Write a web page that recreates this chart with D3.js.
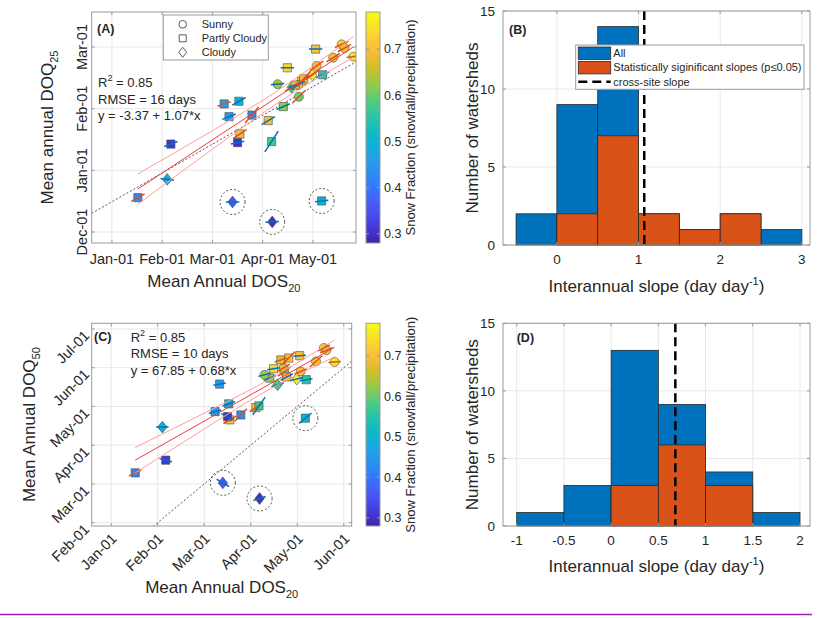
<!DOCTYPE html>
<html>
<head>
<meta charset="utf-8">
<script src="https://cdn.jsdelivr.net/npm/d3@7"></script>
<style>
  body { margin: 0; background: #fff; }
  svg { font-family: "Liberation Sans", Arial, sans-serif; }
</style>
</head>
<body>
<svg id="fig" width="819" height="618"></svg>
<script>
// ---- data ----
// watershed shape class: o = sunny, s = partly cloudy, d = cloudy
const shapeNames = ["Sunny", "Partly Cloudy", "Cloudy"];
const shapes   = ["s","d","s","s","s","s","s","s","s","s","s","s","o","s","o","d","s","o","o","d","s","s","o","o","o","o","d","d","s","s","s"];
const snowFrac = [0.42,0.48,0.31,0.46,0.49,0.45,0.43,0.70,0.30,0.70,0.57,0.62,0.63,0.73,0.60,0.58,0.70,0.68,0.70,0.76,0.55,0.70,0.70,0.72,0.70,0.75,0.36,0.30,0.50,0.68,0.70];
// mean annual DOS20 (days after Jan-01)
const dos20    = [15.5,33.0,35.2,67.0,75.8,69.9,83.6,76.4,75.0,93.3,95.3,102.3,98.9,104.7,111.6,107.3,113.2,111.2,122.2,119.6,125.8,121.6,132.1,137.1,138.8,144.1,72.0,95.7,125.2,109.4,114.5];
// panel A: mean annual DOQ25 (days, axis units)
const doq25    = [-13.3,-4.4,12.8,32.3,33.6,26.1,26.9,17.7,13.5,24.2,14.0,31.0,41.9,49.9,35.8,40.4,43.5,41.5,50.8,46.4,46.5,59.0,54.8,61.3,59.5,55.3,-15.4,-25.1,-14.9,41.5,44.5];
// panel C: mean annual DOQ50 (days, axis units)
const doq50    = [68.6,104,78.4,116,122,137.3,113.4,109.6,112.1,119.1,120.4,142,144.5,149.2,147.1,136.8,142.8,150,147.1,141.2,140.7,159.3,154.9,165.3,163.5,154.4,60.8,48.7,110.9,156,157.5];
// per-watershed interannual slopes and significance
const slopeA   = [0.45,-0.1,0.3,0.28,0.46,0.33,0.98,0.54,0.16,0.49,1.26,0.35,0.08,0,0.8,0.5,0.6,0.5,0.58,0.6,0.35,0,0.51,0.38,0.45,0.1,0,0.05,0.1,0.3,0.9];
const sigA     = [1,0,0,1,0,0,1,1,0,0,0,0,0,0,1,1,1,0,1,1,0,0,1,1,1,1,0,0,0,0,1];
const slopeC   = [0.6,0,-0.3,0.3,0.4,0.2,1.2,0.7,-0.6,0.8,1.7,0.5,0.3,0.2,0.9,0.4,0.6,0.7,0.5,0.3,0.2,0.1,1.1,0.6,0.5,0.1,-0.7,0.4,1.0,0.4,1.2];
const sigC     = [1,0,0,0,0,0,1,1,0,1,0,0,0,0,1,0,0,1,1,0,0,0,1,1,1,1,0,0,0,1,1];
const outlier  = [0,0,0,0,0,0,0,0,0,0,0,0,0,0,0,0,0,0,0,0,0,0,0,0,0,0,1,1,1,0,0];

// cross-site fits (axis units) and confidence bounds
const fitA  = { b0: -17.4, b1: 0.537 };
const refA  = { b0: -15.3, b1: 0.467 };
const bandA = [ { x: 15.5, lo: -16.5, hi: -1.7 }, { x: 60, lo: 10.3, hi: 19.3 }, { x: 97, lo: 31.7, hi: 37.7 }, { x: 144.1, lo: 55, hi: 65 } ];
const fitC  = { b0: 67.85, b1: 0.68 };
const refC  = { b0: 0, b1: 1 };
const bandC = [ { x: 15.5, lo: 68.5, hi: 88.2 }, { x: 60, lo: 102.5, hi: 114.8 }, { x: 95, lo: 128.5, hi: 136.4 }, { x: 144.1, lo: 158.5, hi: 171.5 } ];
const statsA = ["0.85", "RMSE = 16 days", "y = -3.37 + 1.07*x"];
const statsC = ["0.85", "RMSE = 10 days", "y = 67.85 + 0.68*x"];

// axis ticks (evenly spaced month marks, as in the figure)
const xTickDaysA = [0, 30, 60, 90, 120];
const xTickLabA  = ["Jan-01", "Feb-01", "Mar-01", "Apr-01", "May-01"];
const yTickDaysA = [-30, 0, 30, 60];
const yTickLabA  = ["Dec-01", "Jan-01", "Feb-01", "Mar-01"];
const xTickDaysC = [0, 30, 60, 90, 120, 150];
const xTickLabC  = ["Jan-01", "Feb-01", "Mar-01", "Apr-01", "May-01", "Jun-01"];
const yTickDaysC = [30, 60, 90, 120, 150, 180];
const yTickLabC  = ["Feb-01", "Mar-01", "Apr-01", "May-01", "Jun-01", "Jul-01"];
const cLim = [0.28, 0.78];
const cTicks = [0.3, 0.4, 0.5, 0.6, 0.7];

// histograms
const edgesB     = [-0.5, 0, 0.5, 1, 1.5, 2, 2.5, 3];
const countsAllB = [2, 9, 14, 2, 1, 2, 1];
const countsSigB = [0, 2, 7, 2, 1, 2, 0];
const crossB     = 1.07;
const xTicksB    = [0, 1, 2, 3];
const edgesD     = [-1, -0.5, 0, 0.5, 1, 1.5, 2];
const countsAllD = [1, 3, 13, 9, 4, 1];
const countsSigD = [0, 0, 3, 6, 3, 0];
const crossD     = 0.68;
const xTicksD    = [-1, -0.5, 0, 0.5, 1, 1.5, 2];
const yTicksHist = [0, 5, 10, 15];
const legendB    = ["All", "Statistically siginificant slopes (p\u22640.05)", "cross-site slope"];

// ---- style ----
const txt = "#262626", frame = "#9a9a9a", gridCol = "#e8e8e8";
const blue = "#0072BD", orange = "#D95319";
// MATLAB parula, sampled every 4th of 64 entries
const parulaStops = ["#3e26a8","#4537d5","#484df0","#4563fd","#327cfc","#2b91ef","#20a5e3","#08b5d0","#19bfb6",
                     "#37c897","#64cd6f","#9dc943","#d1bf27","#f8ba3d","#fccf30","#f5e924","#f9fb15"];
const parula = d3.scaleLinear()
  .domain([0,4,8,12,16,20,24,28,32,36,40,44,48,52,56,60,63].map(i => i / 63))
  .range(parulaStops).clamp(true);
const sfScale = d3.scaleLinear().domain(cLim).range([0, 1]);

const svg = d3.select("#fig");
const defs = svg.append("defs");

function markerPath(shape, k) {
  if (shape === "o") { const r = 4.5 * k; return `M${r},0A${r},${r},0,1,1,${-r},0A${r},${r},0,1,1,${r},0Z`; }
  if (shape === "s") { const s = 4.1 * k; return `M${-s},${-s}H${s}V${s}H${-s}Z`; }
  const w = 4.7 * k, h = 5.9 * k; return `M0,${-h}L${w},0L0,${h}L${-w},0Z`;
}

function frameAndTicks(g, c, x, y, xt, yt) {
  g.append("rect").attr("x", c.left).attr("y", c.top)
    .attr("width", c.right - c.left).attr("height", c.bottom - c.top)
    .attr("fill", "none").attr("stroke", frame).attr("stroke-width", 1);
  const t = 3;
  xt.forEach(v => {
    g.append("line").attr("x1", x(v)).attr("x2", x(v)).attr("y1", c.bottom).attr("y2", c.bottom - t).attr("stroke", frame);
    g.append("line").attr("x1", x(v)).attr("x2", x(v)).attr("y1", c.top).attr("y2", c.top + t).attr("stroke", frame);
  });
  yt.forEach(v => {
    g.append("line").attr("y1", y(v)).attr("y2", y(v)).attr("x1", c.left).attr("x2", c.left + t).attr("stroke", frame);
    g.append("line").attr("y1", y(v)).attr("y2", y(v)).attr("x1", c.right).attr("x2", c.right - t).attr("stroke", frame);
  });
}

function grid(g, c, x, y, xt, yt) {
  g.selectAll(".gx").data(xt).join("line").attr("class", "gx")
    .attr("x1", d => x(d)).attr("x2", d => x(d)).attr("y1", c.top).attr("y2", c.bottom)
    .attr("stroke", gridCol);
  g.selectAll(".gy").data(yt).join("line").attr("class", "gy")
    .attr("y1", d => y(d)).attr("y2", d => y(d)).attr("x1", c.left).attr("x2", c.right)
    .attr("stroke", gridCol);
}

function subLabel(g, main, sub, attrs, subDy) {
  const t = g.append("text").attr("fill", txt).attr("font-size", 17).attr("text-anchor", "middle");
  Object.entries(attrs).forEach(([k, v]) => t.attr(k, v));
  t.append("tspan").text(main);
  t.append("tspan").attr("font-size", 11).attr("dy", subDy).text(sub);
  return t;
}

function drawScatter(c) {
  const x = d3.scaleLinear().domain(c.xDom).range([c.left, c.right]);
  const y = d3.scaleLinear().domain(c.yDom).range([c.bottom, c.top]);
  const g = svg.append("g");
  defs.append("clipPath").attr("id", "clip" + c.id).append("rect")
    .attr("x", c.left).attr("y", c.top).attr("width", c.right - c.left).attr("height", c.bottom - c.top);
  grid(g, c, x, y, c.xTicks, c.yTicks);

  const plot = g.append("g").attr("clip-path", `url(#clip${c.id})`);
  plot.append("line")
    .attr("x1", x(c.xDom[0])).attr("y1", y(c.ref.b0 + c.ref.b1 * c.xDom[0]))
    .attr("x2", x(c.xDom[1])).attr("y2", y(c.ref.b0 + c.ref.b1 * c.xDom[1]))
    .attr("stroke", "#444").attr("stroke-width", 0.9).attr("stroke-dasharray", "2,2");

  const pts = dos20.map((d, i) => ({ x: d, y: c.ys[i], shape: shapes[i], sf: snowFrac[i],
                                     s: c.slopes[i], sig: c.sig[i], out: outlier[i] }));
  plot.selectAll(".mk").data(pts).join("path").attr("class", "mk")
    .attr("d", d => markerPath(d.shape, 1))
    .attr("transform", d => `translate(${x(d.x)},${y(d.y)})`)
    .attr("fill", d => parula(sfScale(d.sf)))
    .attr("stroke", "#4a4a4a").attr("stroke-width", 0.6);

  const half = 4;
  plot.selectAll(".ind").data(pts).join("line").attr("class", "ind")
    .attr("x1", d => x(d.x - half)).attr("y1", d => y(d.y - d.s * half))
    .attr("x2", d => x(d.x + half)).attr("y2", d => y(d.y + d.s * half))
    .attr("stroke", d => d.sig ? orange : blue).attr("stroke-width", 1.5);

  const lo = d3.line().x(d => x(d.x)).y(d => y(d.lo)).curve(d3.curveMonotoneX);
  const hi = d3.line().x(d => x(d.x)).y(d => y(d.hi)).curve(d3.curveMonotoneX);
  plot.append("path").attr("d", lo(c.band)).attr("fill", "none").attr("stroke", "#ff9c9c").attr("stroke-width", 1);
  plot.append("path").attr("d", hi(c.band)).attr("fill", "none").attr("stroke", "#ff9c9c").attr("stroke-width", 1);
  const [fx0, fx1] = d3.extent(dos20);
  plot.append("line")
    .attr("x1", x(fx0)).attr("y1", y(c.fit.b0 + c.fit.b1 * fx0))
    .attr("x2", x(fx1)).attr("y2", y(c.fit.b0 + c.fit.b1 * fx1))
    .attr("stroke", "#f03a3a").attr("stroke-width", 1);

  plot.selectAll(".ring").data(pts.filter(d => d.out)).join("circle").attr("class", "ring")
    .attr("cx", d => x(d.x)).attr("cy", d => y(d.y)).attr("r", 12.5)
    .attr("fill", "none").attr("stroke", "#444").attr("stroke-width", 0.9).attr("stroke-dasharray", "2,2");

  frameAndTicks(g, c, x, y, c.xTicks, c.yTicks);

  // tick labels
  c.xTicks.forEach((v, i) => {
    const t = g.append("text").attr("fill", txt).attr("font-size", 14.5).text(c.xLabels[i]);
    if (c.rotate) t.attr("text-anchor", "end").attr("dy", "0.35em")
      .attr("transform", `translate(${x(v) + 3},${c.bottom + 10}) rotate(-45)`);
    else t.attr("text-anchor", "middle").attr("x", x(v)).attr("y", c.bottom + 21);
  });
  c.yTicks.forEach((v, i) => {
    const t = g.append("text").attr("fill", txt).attr("font-size", 14.5).text(c.yLabels[i]);
    if (c.rotate) t.attr("text-anchor", "end").attr("dy", "0.35em")
      .attr("transform", `translate(${c.left - 5},${y(v) + 4}) rotate(-45)`);
    else t.attr("text-anchor", "middle").attr("transform", `translate(${c.left - 5},${y(v)}) rotate(-90)`);
  });

  // axis labels
  subLabel(g, "Mean Annual DOS", "20", { x: (c.left + c.right) / 2, y: c.xLabelY }, 5);
  subLabel(g, c.yLabel, c.ySub, { transform: `translate(${c.yLabelX},${(c.top + c.bottom) / 2}) rotate(-90)` }, 5);

  // panel letter and stats
  g.append("text").attr("x", c.letterX).attr("y", c.letterY).attr("font-size", 12.5)
    .attr("font-weight", "bold").attr("fill", txt).text(c.letter);
  const r2 = g.append("text").attr("x", c.statX).attr("y", c.statY).attr("font-size", 13).attr("fill", txt);
  r2.append("tspan").text("R");
  r2.append("tspan").attr("font-size", 9).attr("dy", -6).text("2");
  r2.append("tspan").attr("dy", 6).text(" = " + c.stats[0]);
  c.stats.slice(1).forEach((s, i) => {
    g.append("text").attr("x", c.statX).attr("y", c.statY + 16.5 * (i + 1))
      .attr("font-size", 13).attr("fill", txt).text(s);
  });
  return { x, y, g };
}

function drawColorbar(c) {
  const cs = d3.scaleLinear().domain(cLim).range([c.bottom, c.top]);
  const gid = "grad" + c.id;
  const gr = defs.append("linearGradient").attr("id", gid)
    .attr("x1", 0).attr("y1", 1).attr("x2", 0).attr("y2", 0);
  d3.range(0, 1.0001, 0.02).forEach(t => gr.append("stop").attr("offset", t).attr("stop-color", parula(t)));
  const g = svg.append("g");
  g.append("rect").attr("x", c.left).attr("y", c.top).attr("width", c.right - c.left)
    .attr("height", c.bottom - c.top).attr("fill", `url(#${gid})`).attr("stroke", frame);
  cTicks.forEach(v => {
    g.append("line").attr("x1", c.right - 3).attr("x2", c.right).attr("y1", cs(v)).attr("y2", cs(v)).attr("stroke", frame);
    g.append("line").attr("x1", c.left).attr("x2", c.left + 3).attr("y1", cs(v)).attr("y2", cs(v)).attr("stroke", frame);
    g.append("text").attr("x", c.right + 4).attr("y", cs(v)).attr("dy", "0.35em")
      .attr("font-size", 12.5).attr("fill", txt).text(d3.format(".1f")(v));
  });
  g.append("text").attr("transform", `translate(415,${(c.top + c.bottom) / 2}) rotate(-90)`)
    .attr("text-anchor", "middle").attr("font-size", 13).attr("fill", txt)
    .text("Snow Fraction (snowfall/precipitation)");
}

function drawHist(c) {
  const x = d3.scaleLinear().domain(c.xDom).range([c.left, c.right]);
  const y = d3.scaleLinear().domain([0, 15]).range([c.bottom, c.top]);
  const g = svg.append("g");
  grid(g, c, x, y, c.xTicks, yTicksHist);
  const bins = (counts) => c.edges.slice(0, -1).map((e, i) => ({ x0: e, x1: c.edges[i + 1], n: counts[i] }));
  g.selectAll(".ba").data(bins(c.all)).join("rect").attr("class", "ba")
    .attr("x", d => x(d.x0)).attr("width", d => x(d.x1) - x(d.x0))
    .attr("y", d => y(d.n)).attr("height", d => y(0) - y(d.n))
    .attr("fill", blue).attr("stroke", "#2a2a2a").attr("stroke-width", 0.8);
  g.selectAll(".bs").data(bins(c.sig).filter(d => d.n > 0)).join("rect").attr("class", "bs")
    .attr("x", d => x(d.x0)).attr("width", d => x(d.x1) - x(d.x0))
    .attr("y", d => y(d.n)).attr("height", d => y(0) - y(d.n))
    .attr("fill", orange).attr("stroke", "#2a2a2a").attr("stroke-width", 0.8);
  g.append("line").attr("x1", x(c.cross)).attr("x2", x(c.cross)).attr("y1", c.top).attr("y2", c.bottom)
    .attr("stroke", "#000").attr("stroke-width", 2.5).attr("stroke-dasharray", "9,5");
  frameAndTicks(g, c, x, y, c.xTicks, yTicksHist);
  c.xTicks.forEach(v => g.append("text").attr("x", x(v)).attr("y", c.bottom + 19)
    .attr("text-anchor", "middle").attr("font-size", 13.5).attr("fill", txt).text(String(v)));
  yTicksHist.forEach(v => g.append("text").attr("x", c.left - 8).attr("y", y(v)).attr("dy", "0.35em")
    .attr("text-anchor", "end").attr("font-size", 13.5).attr("fill", txt).text(String(v)));
  const xl = g.append("text").attr("x", (c.left + c.right) / 2).attr("y", c.xLabelY)
    .attr("text-anchor", "middle").attr("font-size", 17).attr("fill", txt);
  xl.append("tspan").text("Interannual slope (day day");
  xl.append("tspan").attr("font-size", 11).attr("dy", -7).text("-1");
  xl.append("tspan").attr("dy", 7).text(")");
  g.append("text").attr("transform", `translate(478,${(c.top + c.bottom) / 2}) rotate(-90)`)
    .attr("text-anchor", "middle").attr("font-size", 17).attr("fill", txt).text("Number of watersheds");
  g.append("text").attr("x", c.letterX).attr("y", c.letterY).attr("font-size", 12.5)
    .attr("font-weight", "bold").attr("fill", txt).text(c.letter);
  return g;
}

// ---- panel A ----
drawScatter({
  id: "A", left: 91.7, right: 356, top: 12, bottom: 243,
  xDom: [-12.06, 145.7], yDom: [-35.35, 77.03],
  xTicks: xTickDaysA, xLabels: xTickLabA, yTicks: yTickDaysA, yLabels: yTickLabA, rotate: false,
  ys: doq25, slopes: slopeA, sig: sigA, fit: fitA, ref: refA, band: bandA,
  xLabelY: 287, yLabel: "Mean annual DOQ", ySub: "25", yLabelX: 53,
  letter: "(A)", letterX: 97, letterY: 33, stats: statsA, statX: 98, statY: 87
});
drawColorbar({ id: "A", left: 366, right: 380, top: 12, bottom: 243 });

// legend A
const lgA = svg.append("g");
lgA.append("rect").attr("x", 163.3).attr("y", 15).attr("width", 105).attr("height", 45)
  .attr("fill", "#fff").attr("stroke", frame);
["o", "s", "d"].forEach((s, i) => {
  lgA.append("path").attr("d", markerPath(s, 0.85)).attr("transform", `translate(182.7,${24.3 + 14 * i})`)
    .attr("fill", "#fff").attr("stroke", "#333").attr("stroke-width", 0.8);
  lgA.append("text").attr("x", 201.7).attr("y", 24.3 + 14 * i).attr("dy", "0.35em")
    .attr("font-size", 11).attr("fill", txt).text(shapeNames[i]);
});

// ---- panel C ----
drawScatter({
  id: "C", left: 91.7, right: 351.7, top: 323.3, bottom: 526,
  xDom: [-12.57, 155.1], yDom: [27.4, 184.4],
  xTicks: xTickDaysC, xLabels: xTickLabC, yTicks: yTickDaysC, yLabels: yTickLabC, rotate: true,
  ys: doq50, slopes: slopeC, sig: sigC, fit: fitC, ref: refC, band: bandC,
  xLabelY: 593, yLabel: "Mean Annual DOQ", ySub: "50", yLabelX: 35,
  letter: "(C)", letterX: 94, letterY: 340.5, stats: statsC, statX: 130.7, statY: 341.5
});
drawColorbar({ id: "C", left: 366, right: 380, top: 323.3, bottom: 526 });

// ---- panel B ----
drawHist({
  left: 503, right: 810, top: 11, bottom: 245, xDom: [-0.66, 3.1],
  edges: edgesB, all: countsAllB, sig: countsSigB, cross: crossB, xTicks: xTicksB,
  xLabelY: 292, letter: "(B)", letterX: 509, letterY: 34
});
const lgB = svg.append("g");
lgB.append("rect").attr("x", 575.7).attr("y", 45).attr("width", 228.3).attr("height", 44.3)
  .attr("fill", "#fff").attr("stroke", frame);
[blue, orange].forEach((col, i) => {
  lgB.append("rect").attr("x", 578.3).attr("y", 47 + 14.5 * i).attr("width", 32.4).attr("height", 12.4)
    .attr("fill", col).attr("stroke", "#2a2a2a").attr("stroke-width", 0.8);
});
lgB.append("line").attr("x1", 578.3).attr("x2", 610.7).attr("y1", 81.7).attr("y2", 81.7)
  .attr("stroke", "#000").attr("stroke-width", 2.5).attr("stroke-dasharray", "9,5");
legendB.forEach((s, i) => lgB.append("text").attr("x", 613.3).attr("y", 53.3 + 14.2 * i).attr("dy", "0.35em")
  .attr("font-size", 11).attr("fill", txt).text(s));

// ---- panel D ----
drawHist({
  left: 503, right: 810, top: 323.3, bottom: 526, xDom: [-1.145, 2.106],
  edges: edgesD, all: countsAllD, sig: countsSigD, cross: crossD, xTicks: xTicksD,
  xLabelY: 572, letter: "(D)", letterX: 516.7, letterY: 342
});

// bottom rule
svg.append("line").attr("x1", 0).attr("x2", 812).attr("y1", 614.5).attr("y2", 614.5)
  .attr("stroke", "#9a22ad").attr("stroke-width", 1.5);
</script>
</body>
</html>
